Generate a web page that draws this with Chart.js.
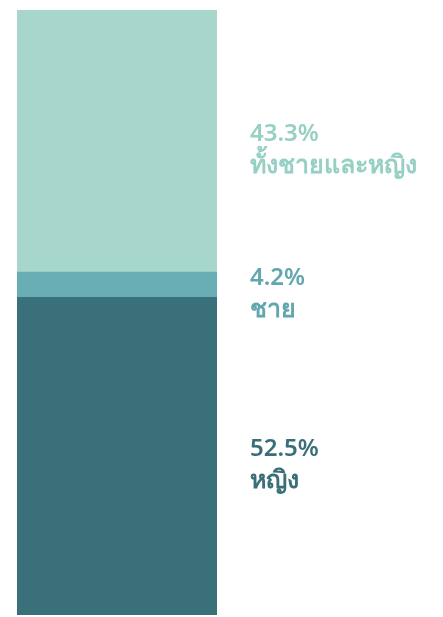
<!DOCTYPE html>
<html>
<head>
<meta charset="utf-8">
<script src="https://cdn.jsdelivr.net/npm/chart.js@4/dist/chart.umd.min.js"></script>
<style>
  html, body { margin: 0; padding: 0; background: #ffffff; }
  #wrap { width: 443px; height: 617px; position: relative; }
</style>
</head>
<body>
<div id="wrap"><canvas id="shareChart"></canvas></div>
<script>
// Share of respondents by group, stacked bottom to top
const groups = ["หญิง", "ชาย", "ทั้งชายและหญิง"];
const shares = [52.5, 4.2, 43.3];
const barColors = ["#3a707a", "#6aaeb5", "#a7d7ca"];
const labelColors = ["#3a6e78", "#62a7ae", "#96d0c4"];

// Writes the percentage and group name beside each segment
const sideLabels = {
  id: "sideLabels",
  afterDatasetsDraw(chart) {
    const ctx = chart.ctx;
    ctx.save();
    ctx.textAlign = "left";
    ctx.textBaseline = "middle";
    chart.data.datasets.forEach(function (ds, i) {
      const bar = chart.getDatasetMeta(i).data[0];
      const mid = (bar.y + bar.base) / 2;
      const x = 250;
      ctx.fillStyle = labelColors[i];
      ctx.font = "600 24px 'Noto Sans', sans-serif";
      ctx.fillText(ds.data[0].toFixed(1) + "%", x, mid - 7);
      ctx.font = "600 25px 'Noto Sans', sans-serif";
      ctx.fillText(ds.label, x, mid + 25);
    });
    ctx.restore();
  },
};

new Chart(document.getElementById("shareChart"), {
  type: "bar",
  data: {
    labels: [""],
    datasets: groups.map(function (g, i) {
      return {
        label: g,
        data: [shares[i]],
        backgroundColor: barColors[i],
        borderWidth: 0,
        categoryPercentage: 1,
        barPercentage: 1,
      };
    }),
  },
  options: {
    responsive: true,
    maintainAspectRatio: false,
    animation: false,
    layout: { padding: { left: 17, right: 226, top: 10, bottom: 2 } },
    scales: {
      x: { stacked: true, display: false },
      y: { stacked: true, display: false, min: 0, max: 100 },
    },
    plugins: {
      legend: { display: false },
      tooltip: { enabled: false },
    },
  },
  plugins: [sideLabels],
});
</script>
</body>
</html>
